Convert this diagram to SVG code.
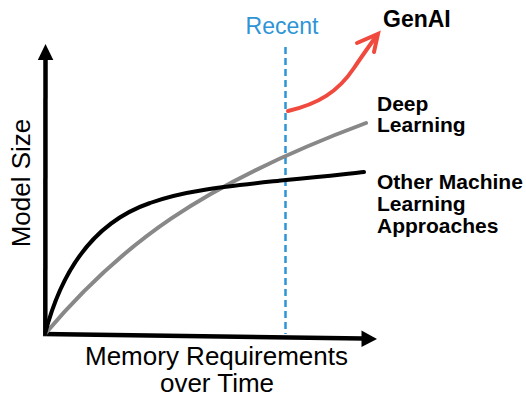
<svg xmlns="http://www.w3.org/2000/svg" width="526" height="397" viewBox="0 0 526 397">
<style>
.axis{stroke:#000;stroke-width:4.5;fill:none}
.head{fill:#000}
.curve{fill:none;stroke-width:4;stroke-linecap:round}
.lab{font-family:"Liberation Sans",Arial,sans-serif;font-weight:bold;font-size:21px;fill:#000}
.ax{font-family:"Liberation Sans",Arial,sans-serif;font-size:26px;fill:#000}
</style>
<rect width="526" height="397" fill="#fff"/>
<g id="axes">
<line class="axis" x1="45.3" y1="336" x2="45.5" y2="58"/>
<polygon class="head" points="45.5,44 53.3,60 37.8,60"/>
<line class="axis" x1="43" y1="334" x2="363" y2="338.5"/>
<polygon class="head" points="377,339 361.5,330.5 361.5,347"/>
</g>
<g id="recent">
<line x1="285.5" y1="47" x2="285.5" y2="334" stroke="#2E94D6" stroke-width="2.5" stroke-dasharray="7 4"/>
<text x="282" y="34" text-anchor="middle" font-family="'Liberation Sans',Arial,sans-serif" font-size="23" fill="#2E94D6">Recent</text>
</g>
<g id="deep-learning">
<path class="curve" stroke="#888" d="M45,334 C120,245 200,185 366,123"/>
<text class="lab" x="377" y="110.7">Deep</text>
<text class="lab" x="377" y="132.3">Learning</text>
</g>
<g id="other-ml">
<path class="curve" stroke="#000" d="M45,334 C62,268 95,222 150,203 C185,190 230,186 286,180 C320,177 345,174 364,172"/>
<text class="lab" x="377" y="189">Other Machine</text>
<text class="lab" x="377" y="211">Learning</text>
<text class="lab" x="377" y="233">Approaches</text>
</g>
<g id="genai">
<path class="curve" stroke="#F04A3F" d="M288,111 C318,104 338,92 354,68 C362,56 370,45 377,35"/>
<path fill="none" stroke="#F04A3F" stroke-width="4" stroke-linecap="round" stroke-linejoin="miter" d="M357,43 L378,34 L374,52"/>
<text class="lab" x="383" y="26.5" style="font-size:23px">GenAI</text>
</g>
<g id="axis-labels">
<text class="ax" transform="translate(29.5,183) rotate(-90)" text-anchor="middle">Model Size</text>
<text class="ax" x="216.5" y="365" text-anchor="middle">Memory Requirements</text>
<text class="ax" x="217" y="392" text-anchor="middle">over Time</text>
</g>
</svg>
